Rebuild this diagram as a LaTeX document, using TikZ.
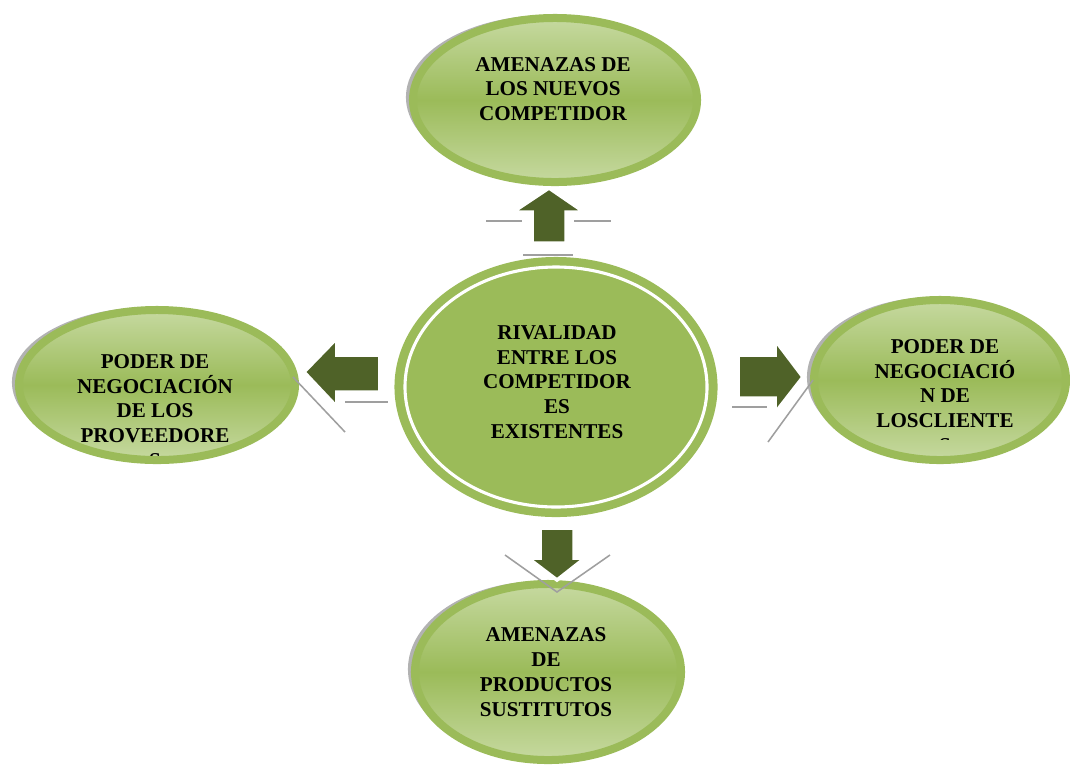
\documentclass[tikz,border=0pt]{standalone}
\usepackage{fontspec}
\setmainfont{Liberation Serif}
\usepackage{tikz}
\usepackage{xcolor}
\usetikzlibrary{shapes.geometric,shadows}
\definecolor{olivegreen}{HTML}{9BBB59}
\definecolor{palegreen}{HTML}{C6D9A0}
\definecolor{darkolive}{HTML}{4F6228}
\tikzset{
  force/.style={ellipse, inner sep=0pt, draw=olivegreen, line width=0.2cm,
    top color=palegreen, bottom color=palegreen, middle color=olivegreen,
    general shadow={fill=gray!60, shadow xshift=-5pt, shadow yshift=2pt}},
  forcetext/.style={align=center, inner sep=0pt,
    font=\fontsize{15}{17.6}\selectfont\bfseries},
  blockarrow/.style={fill=darkolive, draw=white, line width=2.5pt, line join=miter},
  ghost/.style={draw=gray!75, line width=1.1pt}
}

\begin{document}
\begin{tikzpicture}[x=0.025cm, y=-0.025cm]
    \useasboundingbox (0,0) rectangle (1070,765);
    % the four forces round the centre
    \node[force, minimum width=7.1cm, minimum height=4.1cm] (nuevos) at (555,100) {};
    \node[force, minimum width=6.9cm, minimum height=3.75cm] (proveedores) at (157,385) {};
    \node[force, minimum width=6.3cm, minimum height=4.0cm] (clientes) at (940,380) {};
    \node[force, minimum width=6.65cm, minimum height=4.4cm] (sustitutos) at (548,672) {};
    % centre
    \node[ellipse, inner sep=0pt, fill=olivegreen, minimum width=8.075cm,
      minimum height=6.5cm] (rivalidad) at (556,387) {};
    \draw[white, line width=2.2pt] (rivalidad.center) ellipse [x radius=151, y radius=120];
    % texts
    \node[forcetext] (nuevosTxt) at (553,89) {AMENAZAS DE\\LOS NUEVOS\\COMPETIDOR};
    \node[forcetext] (rivalidadTxt) at (557,382) {RIVALIDAD\\ENTRE LOS\\COMPETIDOR\\ES\\EXISTENTES};
    \node[forcetext] (sustitutosTxt) at (546,672) {AMENAZAS\\DE\\PRODUCTOS\\SUSTITUTOS};
    \begin{scope}
      \clip (0,300) rectangle (300,455);
      \node[forcetext] (proveedoresTxt) at (155,411) {PODER DE\\NEGOCIACIÓN\\DE LOS\\PROVEEDORE\\S};
    \end{scope}
    \begin{scope}
      \clip (800,290) rectangle (1070,439);
      \node[forcetext] (clientesTxt) at (945,396) {PODER DE\\NEGOCIACIÓ\\N DE\\LOSCLIENTE\\S};
    \end{scope}
    % shadows of the arrows
    \draw[ghost] (486,221) -- (522,221);
    \draw[ghost] (574,221) -- (611,221);
    \draw[ghost] (523,255) -- (573,255);
    \draw[ghost] (293,377) -- (345,432);
    \draw[ghost] (345,402) -- (388,402);
    \draw[ghost] (732,407) -- (767,407);
    \draw[ghost] (813,380) -- (768,442);
    \draw[ghost] (505,555) -- (557,592) -- (610,555);
    % arrows
    \filldraw[blockarrow] (532,243) -- (532,212) -- (513,212) -- (549,188)
      -- (584,212) -- (566,212) -- (566,243) -- cycle;
    \filldraw[blockarrow] (380,355) -- (337,355) -- (337,338) -- (304,372)
      -- (337,407) -- (337,392) -- (380,392) -- cycle;
    \filldraw[blockarrow] (738,355) -- (775,355) -- (775,340) -- (803,377)
      -- (775,413) -- (775,398) -- (738,398) -- cycle;
    \filldraw[blockarrow] (540,528) -- (574,528) -- (574,558) -- (585,558)
      -- (557,580) -- (528,558) -- (540,558) -- cycle;
\end{tikzpicture}
\end{document}
